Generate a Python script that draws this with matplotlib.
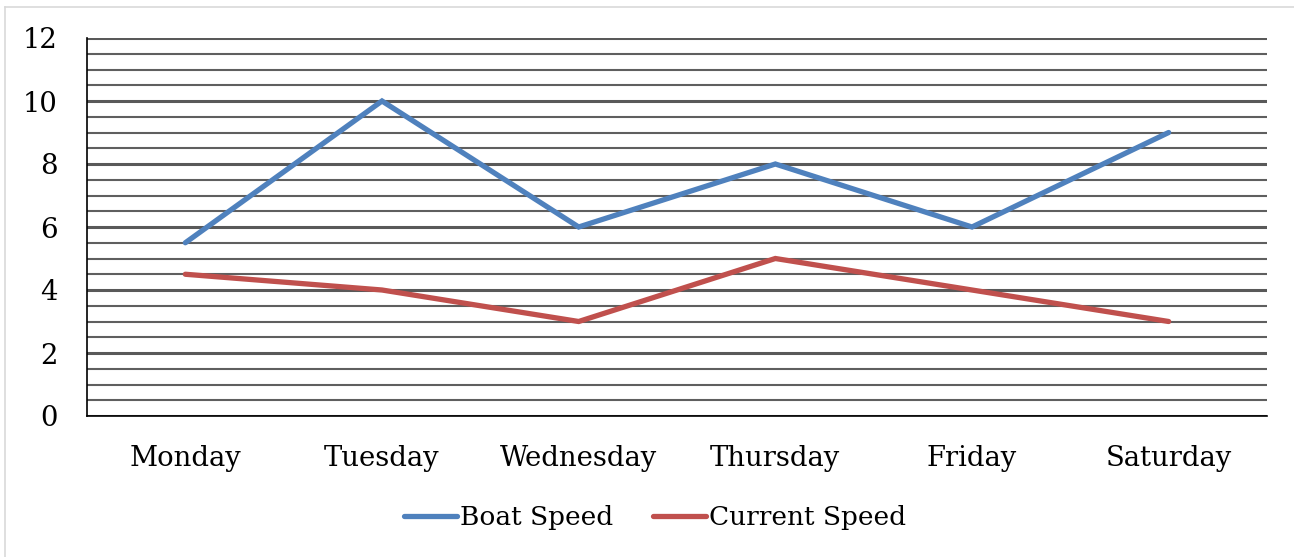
import matplotlib
matplotlib.use("Agg")
import matplotlib.pyplot as plt
from matplotlib.lines import Line2D
import numpy as np

days = ["Monday", "Tuesday", "Wednesday", "Thursday", "Friday", "Saturday"]
boat_speed = [5.5, 10, 6, 8, 6, 9]
current_speed = [4.5, 4, 3, 5, 4, 3]
y_ticks = [0, 2, 4, 6, 8, 10, 12]

plt.rcParams['font.family'] = ['DejaVu Serif']

W, H = 1294, 557
fig = plt.figure(figsize=(W / 100, H / 100), dpi=100)
ax = fig.add_axes([87 / W, 1 - 416 / H, (1267 - 87) / W, (416 - 38) / H])

x = np.arange(len(days))
ax.plot(x, boat_speed, color="#4F81BD", lw=3.8, solid_capstyle="round", solid_joinstyle="miter", label="Boat Speed", zorder=3)
ax.plot(x, current_speed, color="#C0504D", lw=3.8, solid_capstyle="round", solid_joinstyle="miter", label="Current Speed", zorder=3)

ax.set_xlim(-0.5, len(days) - 0.5)
ax.set_ylim(0, 12)
ax.set_yticks(y_ticks)
ax.set_yticks(np.arange(0, 12.01, 0.5), minor=True)
ax.set_xticks(x)
ax.set_xticklabels(days)
ax.tick_params(axis="both", which="both", length=0, labelsize=19.8)
ax.tick_params(axis="y", pad=21)
ax.tick_params(axis="x", pad=21)

ax.grid(True, axis="y", which="major", color="#595959", lw=2.2, zorder=1)
ax.grid(True, axis="y", which="minor", color="#5f5f5f", lw=1.5, zorder=1)
ax.set_axisbelow(True)

for s in ["top", "right"]:
    ax.spines[s].set_visible(False)
ax.spines["left"].set_color("#000000")
ax.spines["left"].set_linewidth(1.2)
ax.spines["bottom"].set_color("#000000")
ax.spines["bottom"].set_linewidth(1.2)

leg = fig.legend(handles=[Line2D([], [], color="#4F81BD", lw=3.8, solid_capstyle="round"),
                          Line2D([], [], color="#C0504D", lw=3.8, solid_capstyle="round")],
                 labels=["Boat Speed", "Current Speed"],
                 loc="center", bbox_to_anchor=(655 / W, 1 - 518 / H), ncol=2, frameon=False,
                 fontsize=19, handlelength=2.0, handletextpad=0.12, columnspacing=1.5)

# light chart-area border (left and top)
fig.add_artist(Line2D([4.5 / W, 4.5 / W], [0, 1 - 6.5 / H], color="#D9D9D9", lw=1.2, transform=fig.transFigure))
fig.add_artist(Line2D([4.5 / W, 1], [1 - 6.5 / H, 1 - 6.5 / H], color="#D9D9D9", lw=1.2, transform=fig.transFigure))

fig.savefig("out.png", dpi=100)
